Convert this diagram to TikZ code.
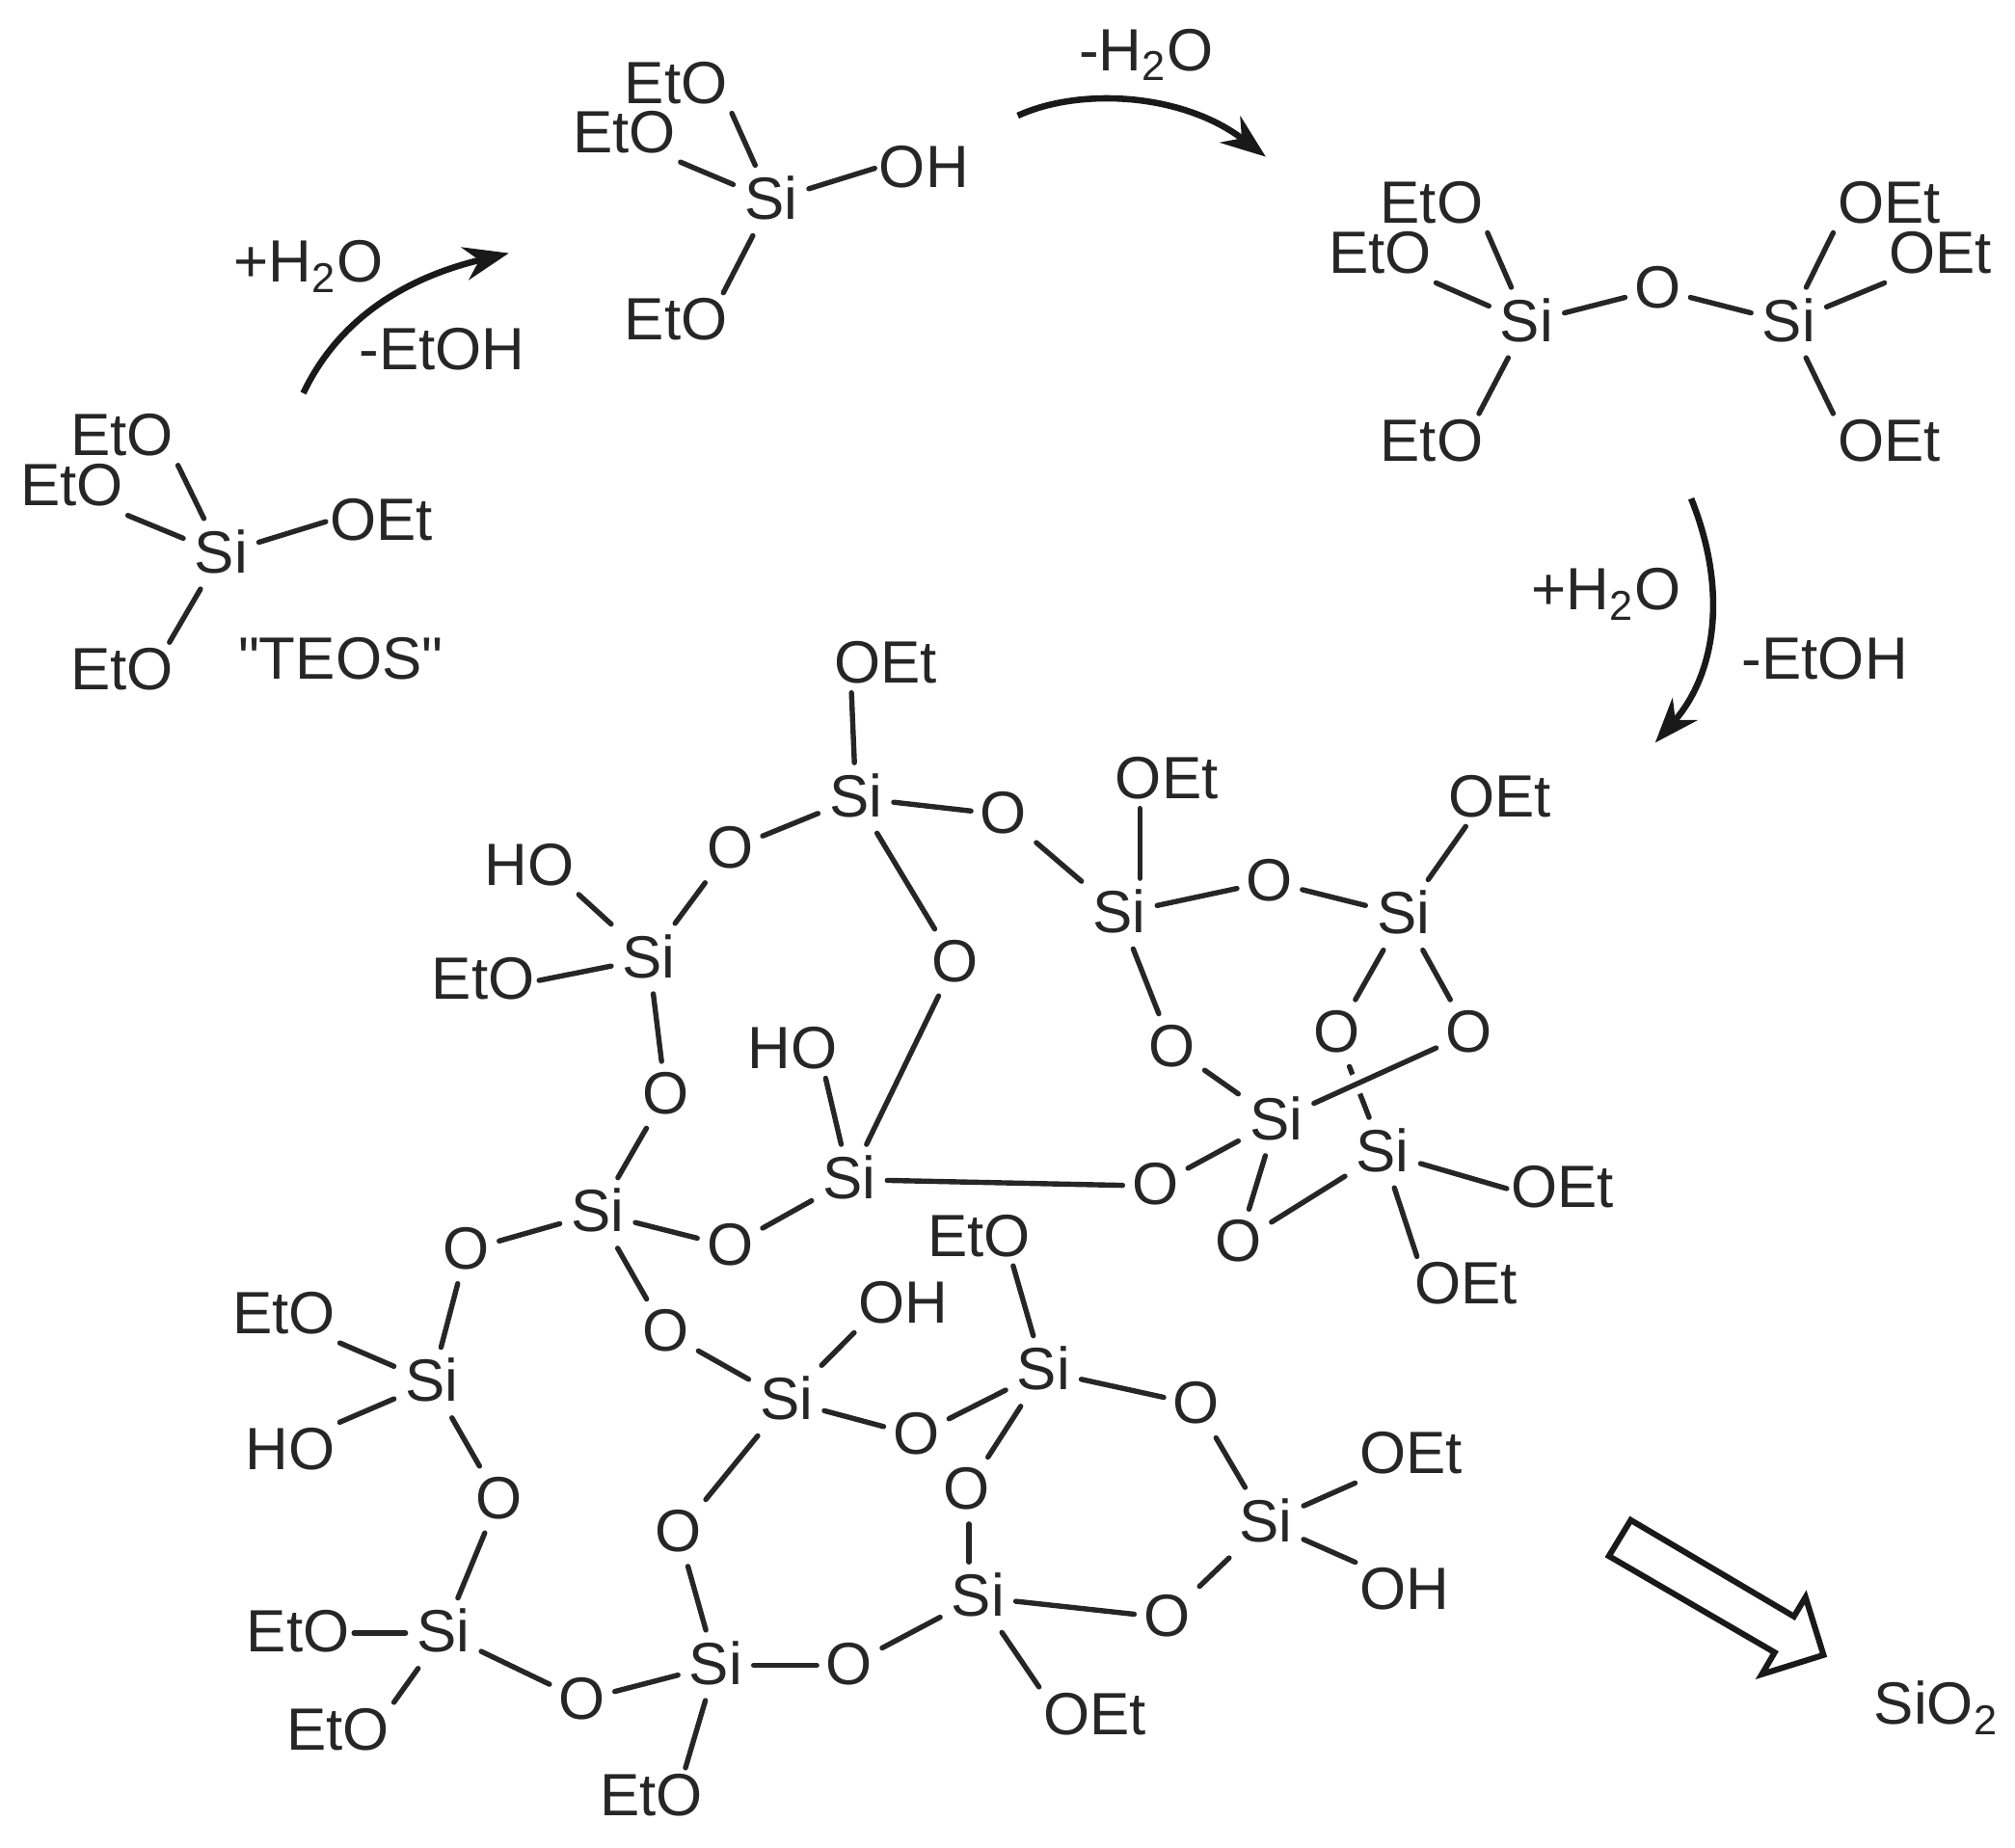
\documentclass[tikz,border=0pt]{standalone}
\usepackage{fontspec}
\setmainfont{Liberation Sans}
\newfontfamily\quotefont{Liberation Sans}
\usetikzlibrary{arrows.meta, calc}

\tikzset{
    atom/.style={font=\fontsize{13.2}{14}\selectfont, text=black!85, text height=9.5pt, text depth=1.1pt, inner sep=1.9pt},
    siatom/.style={atom, inner sep=2.3pt},
    group/.style={atom, inner sep=0.8pt},
    bond/.style={line width=1.15pt, draw=black!85, line cap=round},
    curved/.style={line width=1.4pt, draw=black!90, -{Stealth[length=3.5mm, width=2.6mm]}}
}

\begin{document}
\begin{tikzpicture}[x=0.01cm, y=-0.01cm]
    \useasboundingbox (0, 0) rectangle (1568, 1438);

    % TEOS
    \node[siatom] (tsi) at (172, 431) {Si};
    \node[group] (te1) at (95, 340) {EtO};
    \node[group] (te2) at (56, 379) {EtO};
    \node[group] (te3) at (297, 406) {OEt};
    \node[group] (te4) at (95, 522) {EtO};
    \node[group] (teos) at (265, 514) {\quotefont"TEOS"};

    % silanol
    \node[siatom] (ms) at (600, 156) {Si};
    \node[group] (me1) at (526, 66) {EtO};
    \node[group] (me2) at (486, 104) {EtO};
    \node[group] (mo) at (719, 131) {OH};
    \node[group] (me3) at (526, 250) {EtO};

    % disiloxane
    \node[siatom] (da) at (1188, 251) {Si};
    \node[siatom] (db) at (1392, 251) {Si};
    \node[atom] (do) at (1290, 225) {O};
    \node[group] (de1) at (1114, 159) {EtO};
    \node[group] (de2) at (1074, 198) {EtO};
    \node[group] (de3) at (1114, 344) {EtO};
    \node[group] (df1) at (1470, 159) {OEt};
    \node[group] (df2) at (1510, 198) {OEt};
    \node[group] (df3) at (1470, 344) {OEt};

    % network, silicon
    \node[siatom] (sa) at (666, 621) {Si};
    \node[siatom] (sb) at (871, 711) {Si};
    \node[siatom] (sc) at (1092, 712) {Si};
    \node[siatom] (sd) at (505, 746) {Si};
    \node[siatom] (se) at (993, 872) {Si};
    \node[siatom] (sf) at (1076, 897) {Si};
    \node[siatom] (sg) at (661, 918) {Si};
    \node[siatom] (sh) at (465, 944) {Si};
    \node[siatom] (si) at (336, 1076) {Si};
    \node[siatom] (sj) at (812, 1067) {Si};
    \node[siatom] (sk) at (612, 1090) {Si};
    \node[siatom] (sl) at (985, 1185) {Si};
    \node[siatom] (sm) at (761, 1243) {Si};
    \node[siatom] (sn) at (345, 1271) {Si};
    \node[siatom] (sp) at (557, 1296) {Si};

    % network, oxygen
    \node[atom] (o1) at (781, 634) {O};
    \node[atom] (o2) at (568, 661) {O};
    \node[atom] (o3) at (988, 686) {O};
    \node[atom] (o4) at (743, 749) {O};
    \node[atom] (o5) at (1040, 804) {O};
    \node[atom] (o6) at (1143, 804) {O};
    \node[atom] (o7) at (912, 815) {O};
    \node[atom] (o8) at (518, 852) {O};
    \node[atom] (o9) at (899, 923) {O};
    \node[atom] (o10) at (964, 967) {O};
    \node[atom] (o11) at (568, 970) {O};
    \node[atom] (o12) at (363, 973) {O};
    \node[atom] (o13) at (518, 1037) {O};
    \node[atom] (o14) at (713, 1117) {O};
    \node[atom] (o15) at (931, 1093) {O};
    \node[atom] (o16) at (388, 1167) {O};
    \node[atom] (o17) at (752, 1160) {O};
    \node[atom] (o18) at (528, 1193) {O};
    \node[atom] (o19) at (908, 1259) {O};
    \node[atom] (o20) at (661, 1296) {O};
    \node[atom] (o21) at (453, 1323) {O};

    % network, end groups
    \node[group] (g1) at (689, 517) {OEt};
    \node[group] (g2) at (908, 607) {OEt};
    \node[group] (g3) at (1167, 621) {OEt};
    \node[group] (g4) at (412, 674) {HO};
    \node[group] (g5) at (376, 763) {EtO};
    \node[group] (g6) at (617, 817) {HO};
    \node[group] (g7) at (1216, 925) {OEt};
    \node[group] (g8) at (1141, 1000) {OEt};
    \node[group] (g9) at (762, 963) {EtO};
    \node[group] (g10) at (221, 1023) {EtO};
    \node[group] (g11) at (703, 1015) {OH};
    \node[group] (g12) at (1098, 1132) {OEt};
    \node[group] (g13) at (226, 1129) {HO};
    \node[group] (g14) at (1093, 1238) {OH};
    \node[group] (g15) at (232, 1271) {EtO};
    \node[group] (g16) at (263, 1347) {EtO};
    \node[group] (g17) at (852, 1335) {OEt};
    \node[group] (g18) at (507, 1398) {EtO};

    \foreach \a/\b in {tsi/te1.south east, tsi/te2.south east, tsi/te3.west, tsi/te4.31,
        ms/me1.south east, ms/me2.south east, ms/mo.west, ms/me3.31,
        da/do, do/db, da/de1.south east, da/de2.south east, da/de3.31,
        db/df1.south west, db/df2.south west, db/df3.north west,
        sa/o1, sa/o2, sa/o4, o4/sg, o1/sb, sb/o3, o3/sc, sb/o7, o7/se, sc/o5, sc/o6,
        se/o9, o9/sg, se/o10, o10/sf, sd/o2, sd/o8, o8/sh, sh/o11, o11/sg, sh/o12,
        o12/si, sh/o13, o13/sk, sk/o14, o14/sj, sk/o18, o18/sp, sj/o15, sj/o17, o15/sl,
        sl/o19, o19/sm, sm/o20, o20/sp, sp/o21, o21/sn, si/o16, o16/sn,
        sa/g1.-140, sc/g3.-140, sd/g4.south east, sd/g5.east, sg/g6.-41, sf/g7.west,
        sf/g8.150, sj/g9.-40, sk/g11.south west, sl/g12.south west, si/g10.south east,
        si/g13.north east, sl/g14.north west, sm/g17.north west, sn/g15.east,
        sn/g16.north east, sp/g18.40}
        \draw[bond] (\a) -- (\b);
    \draw[bond] ($(sb.north)+(16, 0)$) -- ($(g2.south)+(-21, 0)$);
    \draw[bond] ($(o17.south)+(2, 0)$) -- ($(o17.south |- sm.north)+(2, 0)$);

    % this one passes under the bond to o6
    \draw[bond] (o5) -- (sf);
    \draw[bond, preaction={draw=white, line width=4.5pt, line cap=butt}] (se) -- (o6);

    % reaction arrows
    \coordinate (a1s) at (236, 306);
    \coordinate (a1e) at (396, 197);
    \coordinate (a2s) at (792, 90);
    \coordinate (a2e) at (985, 122);
    \coordinate (a3s) at (1316, 388);
    \coordinate (a3e) at (1288, 578);
    \draw[curved] (a1s) .. controls (265, 245) and (320, 215) .. (a1e);
    \draw[curved] (a2s) .. controls (840, 68) and (920, 72) .. (a2e);
    \draw[curved] (a3s) .. controls (1345, 460) and (1335, 525) .. (a3e);

    \node[group] (l1) at (240, 205) {+H\textsubscript{2}O};
    \node[group] (l2) at (344, 273) {-EtOH};
    \node[group] (l3) at (892, 40) {-H\textsubscript{2}O};
    \node[group] (l4) at (1250, 460) {+H\textsubscript{2}O};
    \node[group] (l5) at (1420, 514) {-EtOH};

    % open arrow and product
    \draw[line width=1.3pt, draw=black!90, line join=miter] (1269, 1183) -- (1396, 1258) -- (1405, 1243) -- (1419, 1288) -- (1371, 1303) -- (1381, 1286) -- (1252, 1211) -- cycle;
    \node[group] (prod) at (1507, 1327) {SiO\textsubscript{2}};
\end{tikzpicture}
\end{document}
